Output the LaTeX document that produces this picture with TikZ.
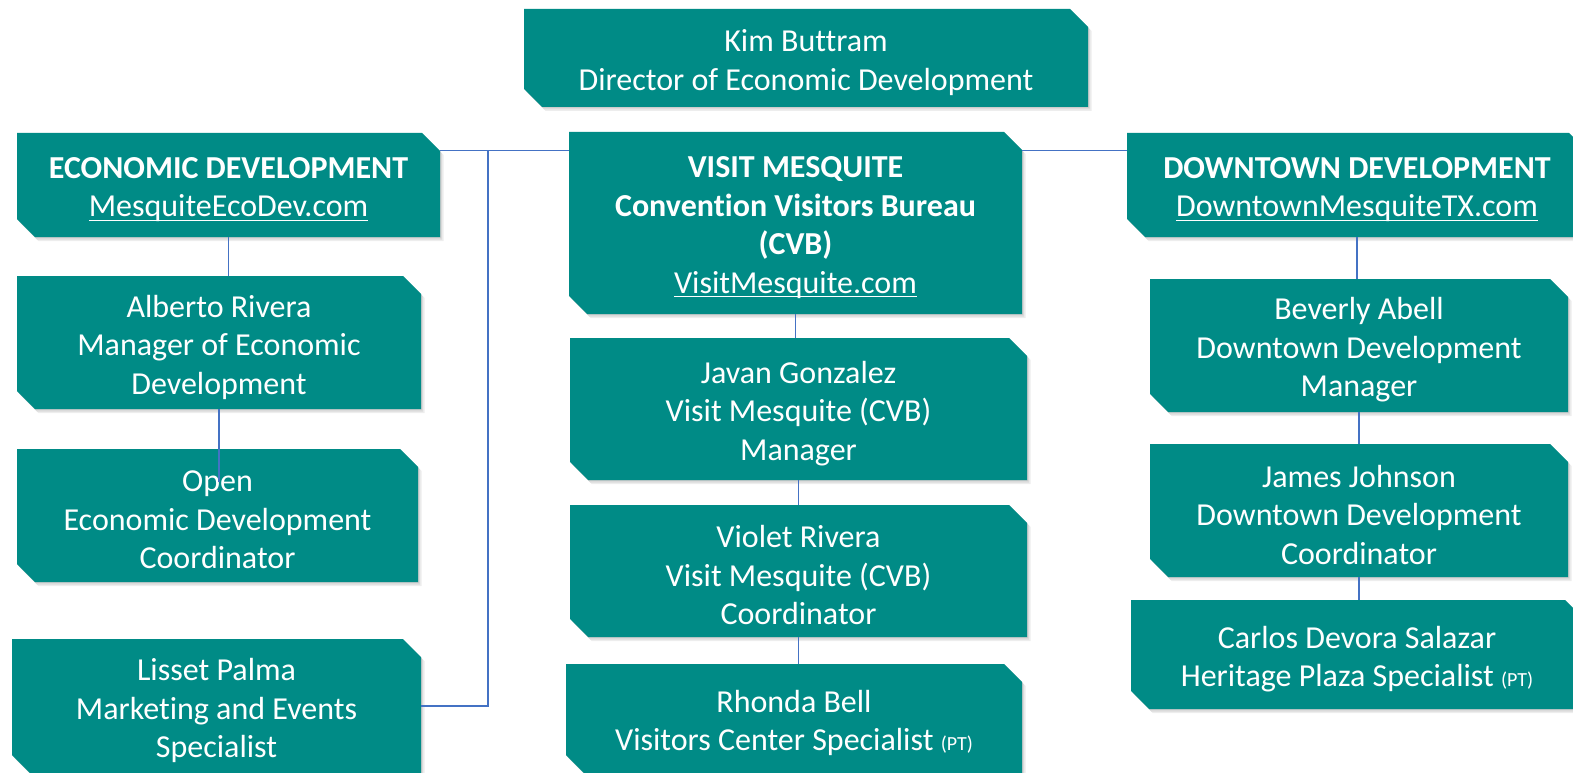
\documentclass[tikz,border=0pt]{standalone}
\usepackage{fontspec}
\setmainfont{Carlito}[Ligatures=NoCommon]
\usetikzlibrary{calc}

\definecolor{orgteal}{RGB}{0,139,134}
\definecolor{orgline}{RGB}{68,114,196}

% underlined web address
\newcommand\weblink[1]{\setbox0\hbox{#1}\rlap{\rule[-4.2pt]{\wd0}{1.3pt}}\box0}
% small "(PT)" tag
\newcommand\parttime{{\fontsize{20}{20}\selectfont (PT)}}

\tikzset{
  orgframe/.style={shape=rectangle, inner sep=0pt},
  orgnode/.style={shape=rectangle, inner sep=0pt, text=white, align=center,
    font=\fontsize{32}{38.5}\selectfont},
  orgfill/.style={fill=orgteal},
  orgshade/.style={fill=black, fill opacity=0.07},
  link/.style={draw=orgline, line width=1.2pt},
}

% chamfered box: name, x1, y1, x2, y2, text
\newcommand\orgbox[6]{%
  \pgfmathsetmacro\bw{#4-#2}%
  \pgfmathsetmacro\bh{#5-#3}%
  \foreach \sx/\sy in {1/1, 2/2.5, 3.5/4}{%
    \fill[orgshade, xshift=\sx pt, yshift=-\sy pt]
      (#2,#3) -- (#4-18,#3) -- (#4,#3+18) -- (#4,#5) -- (#2+18,#5) -- (#2,#5-18) -- cycle;
  }
  \fill[orgfill] (#2,#3) -- (#4-18,#3) -- (#4,#3+18) -- (#4,#5) -- (#2+18,#5) -- (#2,#5-18) -- cycle;
  \node[orgframe, minimum width=\bw pt, minimum height=\bh pt] (#1) at ({(#2+#4)/2},{(#3+#5)/2}) {};
  \node[orgnode] (#1-text) at ({(#2+#4)/2},{(#3+#5)/2+4.5}) {#6};
}

\begin{document}
\begin{tikzpicture}[x=1pt,y=-1pt]
  \useasboundingbox (0,0) rectangle (1573,773);
  \fill[white] (0,0) rectangle (1573,773);
  \clip (0,0) rectangle (1573,773);

  % director
  \orgbox{director}{524}{9}{1088}{107}{Kim Buttram\\Director of Economic Development}

  % economic development column
  \orgbox{econ}{17}{133}{440}{237}{\textbf{ECONOMIC DEVELOPMENT}\\\weblink{MesquiteEcoDev.com}}
  \orgbox{alberto}{17}{276}{421}{409}{Alberto Rivera\\Manager of Economic\\Development}
  \orgbox{openjob}{17}{449}{418}{582}{Open\\Economic Development\\Coordinator}
  \orgbox{lisset}{12}{639}{421}{773}{Lisset Palma\\Marketing and Events\\Specialist}

  % visit mesquite column
  \orgbox{visit}{569}{132}{1022}{314}{\textbf{VISIT MESQUITE}\\\textbf{Convention Visitors Bureau}\\\textbf{(CVB)}\\\weblink{VisitMesquite.com}}
  \orgbox{javan}{570}{338}{1027}{480}{Javan Gonzalez\\Visit Mesquite (CVB)\\Manager}
  \orgbox{violet}{570}{505}{1027}{637}{Violet Rivera\\Visit Mesquite (CVB)\\Coordinator}
  \orgbox{rhonda}{566}{664}{1022}{773}{Rhonda Bell\\Visitors Center Specialist \parttime}

  % downtown column
  \orgbox{downtown}{1127}{133}{1587}{237}{\textbf{DOWNTOWN DEVELOPMENT}\\\weblink{DowntownMesquiteTX.com}}
  \orgbox{beverly}{1150}{279}{1568}{412}{Beverly Abell\\Downtown Development\\Manager}
  \orgbox{james}{1150}{444}{1568}{577}{James Johnson\\Downtown Development\\Coordinator}
  \orgbox{carlos}{1131}{600}{1583}{709}{Carlos Devora Salazar\\Heritage Plaza Specialist \parttime}

  % connectors
  \coordinate (bus) at ([yshift=-18pt]econ.north east);
  \coordinate (tap) at (488,151);
  \coordinate (openTap) at (alberto.south |- 0,482);
  \draw[link] (bus) -- (bus -| visit.west);
  \draw[link] (tap) |- (lisset.east);
  \draw[link] (bus -| visit.east) -- (bus -| downtown.west);
  \draw[link] (econ.south) -- (econ.south |- alberto.north);
  \draw[link] (alberto.south) -- (openTap);
  \draw[link] (visit.south) -- (visit.south |- javan.north);
  \draw[link] (javan.south) -- (javan.south |- violet.north);
  \draw[link] (violet.south) -- (violet.south |- rhonda.north);
  \draw[link] (downtown.south) -- (downtown.south |- beverly.north);
  \draw[link] (beverly.south) -- (beverly.south |- james.north);
  \draw[link] (james.south) -- (james.south |- carlos.north);
\end{tikzpicture}
\end{document}
